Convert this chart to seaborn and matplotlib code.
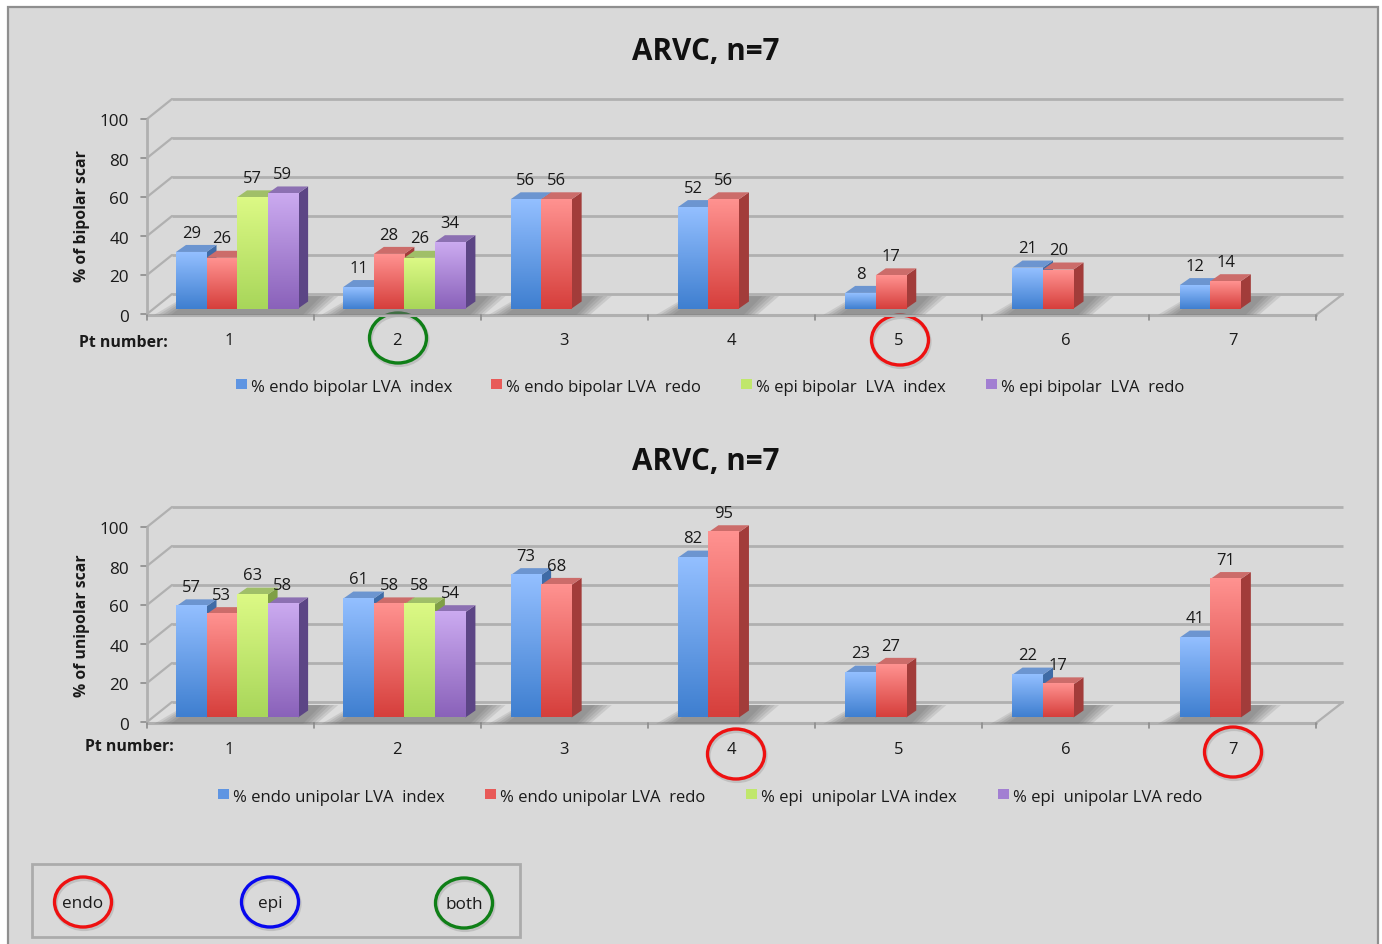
import numpy as np
import pandas as pd
import seaborn as sns
import matplotlib.pyplot as plt
from matplotlib.colors import LinearSegmentedColormap
from matplotlib.patches import Ellipse, Polygon, Rectangle

# data
patients = ['1', '2', '3', '4', '5', '6', '7']
y_ticks = [0, 20, 40, 60, 80, 100]

bip_endo_index = [29, 11, 56, 52, 8, 21, 12]
bip_endo_redo = [26, 28, 56, 56, 17, 20, 14]
bip_epi_index = [57, 26, None, None, None, None, None]
bip_epi_redo = [59, 34, None, None, None, None, None]
bip_names = ['% endo bipolar LVA  index', '% endo bipolar LVA  redo',
             '% epi bipolar  LVA  index', '% epi bipolar  LVA  redo']

uni_endo_index = [57, 61, 73, 82, 23, 22, 41]
uni_endo_redo = [53, 58, 68, 95, 27, 17, 71]
uni_epi_index = [63, 58, None, None, None, None, None]
uni_epi_redo = [58, 54, None, None, None, None, None]
uni_names = ['% endo unipolar LVA  index', '% endo unipolar LVA  redo',
             '% epi  unipolar LVA index', '% epi  unipolar LVA redo']

front_cols = [('#93bfff', '#3f7fd0'), ('#ff9290', '#d63f3c'),
              ('#dcf985', '#a8d65a'), ('#cbaaf0', '#8a62ba')]
swatch_cols = ['#5f95e2', '#e85a58', '#c0e76c', '#a27fd2']
top_cols = ['#6c95d0', '#cc6c6a', '#a0bf68', '#8c70b2']
side_cols = ['#3f6ba6', '#a23c3a', '#7f9f46', '#5c4585']

GREY = '#b0b0b0'
PX_CAT = 167.3  # pixels for one patient
PX_VAL = 1.95  # pixels for one percent
DEPTH_X = 10 / PX_CAT
DEPTH_Y = 7 / PX_VAL
FONT = 'Open Sans'
INK = '#1a1a1a'

sns.set_theme(style='white')
plt.rcParams['font.family'] = [FONT, 'DejaVu Sans']

fig = plt.figure(figsize=(13.82, 9.45), dpi=100, facecolor='white')
bg = fig.add_axes([0, 0, 1, 1], zorder=0)
bg.set_xlim(0, 1382)
bg.set_ylim(945, 0)
bg.axis('off')

bg.add_patch(Rectangle((8, 8), 1370, 960, fc='#d9d9d9', ec='#8f8f8f', lw=1.6))


def draw_frame(y0):
    # back wall, left wall and floor outline
    bg.add_patch(Polygon([(147, y0 + 1), (1316, y0 + 1), (1343, y0 - 20), (172, y0 - 20)],
                         fc='#dddddd', ec='none'))
    for v in y_ticks:
        y = y0 - v * PX_VAL
        bg.plot([172, 1343], [y - 20, y - 20], color=GREY, lw=2, solid_capstyle='butt')
        bg.plot([147, 172], [y, y - 20], color=GREY, lw=1.6)
        bg.plot([141, 147], [y, y], color='#8c8c8c', lw=1.2)
        bg.text(129, y + 2.5, str(v), ha='right', va='center', fontsize=12.3, color=INK)
    bg.plot([147, 147], [y0 - 100 * PX_VAL, y0 + 1], color=GREY, lw=2)
    bg.plot([147, 1316], [y0 + 1, y0 + 1], color=GREY, lw=2.2)
    bg.plot([1316, 1343], [y0 + 1, y0 - 20], color=GREY, lw=1.6)
    for i in range(len(patients) + 1):
        x = 147 + i * 167
        bg.plot([x, x], [y0 + 1, y0 + 6], color='#8c8c8c', lw=1.2)


def draw_bars(base, values, names):
    df = pd.DataFrame({'patient': patients * 4,
                       'value': sum(values, []),
                       'series': [n for n in names for _ in patients]})
    df['value'] = pd.to_numeric(df['value'])

    ax = fig.add_axes([153.4 / 1382, 1 - base / 945, 1171.1 / 1382, 195 / 945], zorder=1)
    sns.barplot(data=df, x='patient', y='value', hue='series', hue_order=names,
                order=patients, width=0.73, saturation=1, legend=False, ax=ax,
                palette=[c[1] for c in front_cols])
    ax.autoscale(False)
    ax.set_xlim(-0.5, 6.5)
    ax.set_ylim(0, 100)
    ax.axis('off')

    bars = []
    for k, cont in enumerate(ax.containers):
        for b in cont:
            if np.isfinite(b.get_height()) and b.get_height() > 0:
                bars.append((b.get_x(), k, b))
    bars.sort(key=lambda t: t[0])

    # soft shadow on the floor round each group of bars
    for i in range(len(patients)):
        group = [t[2] for t in bars if abs(t[2].get_x() - i) < 0.5]
        x0 = min(b.get_x() for b in group)
        x1 = max(b.get_x() + b.get_width() for b in group)
        for grow in [1.0, 0.75, 0.5, 0.25, 0.0]:
            ax.add_patch(Polygon([(x0 - 0.03 - 0.1 * grow, -3.2),
                                  (x1 + 0.03 + 0.08 * grow, -3.2),
                                  (x1 + 0.14 + 0.1 * grow, 6.4),
                                  (x0 + 0.12 - 0.06 * grow, 6.4)],
                                 fc='#666666', ec='none', alpha=0.16, clip_on=False, zorder=0.5))

    for x, k, b in bars:
        x1, h = x + b.get_width(), b.get_height()
        ax.add_patch(Polygon([(x1, 0), (x1 + DEPTH_X, DEPTH_Y), (x1 + DEPTH_X, h + DEPTH_Y), (x1, h)],
                             fc=side_cols[k], ec='none', clip_on=False, zorder=1))
        ax.add_patch(Polygon([(x, h), (x1, h), (x1 + DEPTH_X, h + DEPTH_Y), (x + DEPTH_X, h + DEPTH_Y)],
                             fc=top_cols[k], ec='none', clip_on=False, zorder=1))

    for x, k, b in bars:
        x1, h = x + b.get_width(), b.get_height()
        cmap = LinearSegmentedColormap.from_list('bar', front_cols[k])
        ax.imshow(np.linspace(0, 1, 64).reshape(-1, 1), cmap=cmap, aspect='auto',
                  extent=(x, x1, 0, h), zorder=3, clip_on=False)
        b.set_visible(False)
        ax.text(x + b.get_width() / 2, h + 9.9, f'{h:.0f}', ha='center', va='center',
                fontsize=12, color=INK, clip_on=False, zorder=4)


def draw_text(y_cat, pt_xy, ylab, ylab_y, title_y, leg_y, leg_x, names):
    bg.text(706, title_y + 3, 'ARVC, n=7', ha='center', va='center', fontsize=21.3,
            fontweight='bold', color='#111111')
    bg.text(82, ylab_y, ylab, rotation=90, ha='center', va='center', fontsize=11.3,
            fontweight='bold', color=INK)
    bg.text(pt_xy[0], pt_xy[1] + 2, 'Pt number:', ha='left', va='center', fontsize=11.4,
            fontweight='bold', color=INK)
    for i, p in enumerate(patients):
        bg.text(229.5 + i * 167.2, y_cat + 2, p, ha='center', va='center', fontsize=12, color=INK)
    for x, name, c in zip(leg_x, names, swatch_cols):
        bg.add_patch(Rectangle((x, leg_y - 6), 11, 10, fc=c, ec='none'))
        bg.text(x + 15, leg_y + 2, name, ha='left', va='center', fontsize=12, color=INK)


def ring(x, y, color, label=None):
    bg.add_patch(Ellipse((x + 1, y + 2), 57, 50, fc='none', ec='#777777', lw=3, alpha=0.25))
    bg.add_patch(Ellipse((x, y), 57, 50, fc='none', ec=color, lw=2.4))
    if label:
        bg.text(x, y + 1, label, ha='center', va='center', fontsize=12.3, color=INK)


draw_frame(315)
draw_frame(723)
draw_bars(309.5, [bip_endo_index, bip_endo_redo, bip_epi_index, bip_epi_redo], bip_names)
draw_bars(718.5, [uni_endo_index, uni_endo_redo, uni_epi_index, uni_epi_redo], uni_names)
draw_text(339, (79, 341), '% of bipolar scar', 216, 49, 386, [236, 491, 741, 986], bip_names)
draw_text(748, (85, 745), '% of unipolar scar', 626, 459, 796, [218, 485, 746, 998], uni_names)

ring(398, 339, '#0f7f17')
ring(900, 341, '#ee1111')
ring(736, 755, '#ee1111')
ring(1233, 753, '#ee1111')

bg.add_patch(Rectangle((32, 865), 488, 73, fc='none', ec='#ababab', lw=2))
ring(83, 903, '#ee1111', 'endo')
ring(270, 903, '#0808ee', 'epi')
ring(464, 904, '#0f7f17', 'both')

fig.savefig('out.png', dpi=100)
